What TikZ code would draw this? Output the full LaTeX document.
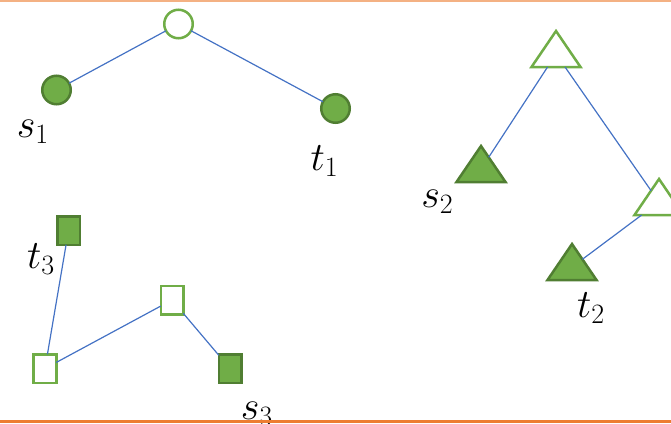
\documentclass[tikz,border=0pt]{standalone}
\usetikzlibrary{shapes.geometric}
\DeclareMathSizes{24.88}{24.88}{17.28}{12}
\definecolor{leaf}{HTML}{70AD47}
\definecolor{leafdark}{HTML}{507E32}
\definecolor{edgeblue}{HTML}{4472C4}
\definecolor{rulelight}{HTML}{F4B183}
\definecolor{ruledark}{HTML}{ED7D31}
\tikzset{
    base/.style={draw, line width=1.73pt, inner sep=0pt, outer sep=0pt},
    hollowmark/.style={base, draw=leaf, fill=white},
    fullmark/.style={base, draw=leafdark, fill=leaf},
    dot/.style={circle, minimum size=19.7pt},
    tri/.style={isosceles triangle, isosceles triangle stretches, shape border rotate=90, minimum width=33.9pt, minimum height=24.9pt, anchor=apex},
    box/.style={rectangle, minimum width=15.55pt, minimum height=19.7pt},
    link/.style={draw=edgeblue, line width=0.83pt},
    lbl/.style={font=\Huge, inner sep=0pt, scale=1.12, transform shape}
}
\begin{document}
\begin{tikzpicture}[x=0.691pt, y=-0.691pt]
    \useasboundingbox (0,0) rectangle (671,423);

    \node (croot) [hollowmark, dot] at (178.5,24) {};
    \node (cs) [fullmark, dot] at (56.5,90) {};
    \node (ct) [fullmark, dot] at (335.5,108.5) {};

    \node (troot) [hollowmark, tri] at (556,31) {};
    \node (tmid) [hollowmark, tri] at (659,179) {};
    \node (ts) [fullmark, tri] at (481,146) {};
    \node (tt) [fullmark, tri] at (572,244) {};

    \node (bt) [fullmark, box] at (68.5,230.5) {};
    \node (bleft) [hollowmark, box] at (45,368.5) {};
    \node (bmid) [hollowmark, box] at (172,300) {};
    \node (bs) [fullmark, box] at (230,368.5) {};

    \draw [link] (croot) -- (cs);
    \draw [link] (croot) -- (ct);
    \draw [link] (troot) -- (ts);
    \draw [link] (troot) -- (tmid);
    \draw [link] (tmid) -- (tt);
    \draw [link] (bt) -- (bleft);
    \draw [link] (bleft) -- (bmid);
    \draw [link] (bmid) -- (bs);

    \node (ls1) [lbl] at (33,131.5) {$s_1$};
    \node (lt1) [lbl] at (324.5,161) {$t_1$};
    \node (ls2) [lbl] at (437.5,202) {$s_2$};
    \node (lt2) [lbl] at (591,308) {$t_2$};
    \node (lt3) [lbl] at (41,259.5) {$t_3$};
    \node (ls3) [lbl] at (257,413.5) {$s_3$};

    \draw [rulelight, line width=1.38pt] (0,1) -- (671,1);
    \draw [ruledark, line width=1.4pt] (0,421.5) -- (671,421.5);
\end{tikzpicture}
\end{document}
